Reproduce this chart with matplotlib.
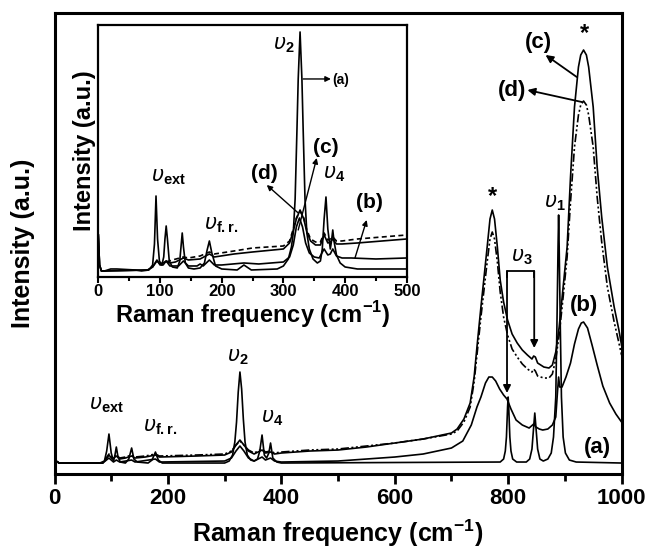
import matplotlib
matplotlib.use('Agg')
import matplotlib.pyplot as plt
from matplotlib.ticker import MultipleLocator

plt.rcParams['font.family'] = ['Liberation Sans', 'DejaVu Sans']
plt.rcParams['mathtext.fontset'] = 'custom'
plt.rcParams['mathtext.rm'] = 'Liberation Sans'
plt.rcParams['mathtext.bf'] = 'Liberation Sans:bold'
plt.rcParams['mathtext.it'] = 'DejaVu Sans:italic'

# ---- main spectra (Raman shift cm-1, intensity a.u.) ----
xa = [0, 3, 8, 80, 88, 92, 96, 100, 104, 106, 109, 112, 116, 125, 131, 136, 140, 146,
      165, 172, 178, 183, 190, 300, 308, 314, 318, 321, 324, 327, 330, 333, 336, 340,
      346, 352, 358, 362, 366, 370, 374, 378, 381, 385, 392, 400, 786, 792, 795, 797,
      799, 800, 801, 803, 805, 808, 815, 832, 838, 842, 845, 847, 849, 852, 856, 862,
      870, 876, 880, 884, 886, 888, 889, 890, 892, 894, 897, 901, 908, 920, 1000]
ya = [25, 16, 14, 14, 16, 26, 43, 24, 16, 20, 30, 20, 15, 14, 18, 29, 18, 15,
      14, 17, 25, 17, 14, 14, 16, 22, 35, 55, 85, 105, 88, 58, 35, 22,
      17, 16, 18, 26, 42, 22, 19, 24, 34, 19, 15, 14, 15, 18, 26, 40,
      70, 80, 70, 40, 26, 18, 15, 15, 18, 28, 50, 64, 50, 28, 18, 16,
      18, 24, 40, 80, 150, 230, 262, 230, 150, 80, 40, 24, 17, 15, 14]

xb = [0, 3, 8, 85, 96, 104, 109, 115, 136, 142, 178, 185, 300, 312, 320, 327, 334, 342,
      352, 366, 372, 381, 388, 400, 500, 600, 650, 700, 720, 735, 745, 752, 760, 766,
      772, 778, 785, 792, 798, 805, 814, 825, 837, 845, 849, 855, 861, 870, 878, 884,
      887, 889, 891, 895, 902, 910, 917, 924, 929, 933, 940, 948, 957, 967, 979, 990, 1000]
yb = [25, 16, 14, 14, 19, 15, 17, 15, 17, 15, 18, 15, 16, 19, 26, 31, 26, 19,
      16, 20, 17, 19, 16, 15, 16, 20, 23, 29, 36, 52, 70, 80, 94, 100,
      100, 96, 88, 82, 78, 68, 57, 52, 49, 53, 50, 48, 47, 48, 52, 60,
      85, 100, 90, 90, 100, 114, 133, 148, 154, 155, 149, 132, 112, 91, 74, 63, 55]

xc = [0, 3, 8, 85, 90, 96, 102, 109, 115, 125, 136, 142, 160, 178, 185, 250, 300, 312,
      320, 327, 334, 342, 352, 366, 372, 381, 388, 400, 450, 500, 550, 600, 650, 700,
      710, 722, 733, 740, 745, 752, 757, 763, 768, 772, 776, 781, 786, 792, 799, 807,
      816, 825, 834, 842, 845, 848, 852, 863, 872, 878, 884, 890, 897, 904, 910, 917,
      924, 928, 933, 938, 942, 950, 957, 965, 975, 987, 995, 1000]
yc = [25, 16, 14, 14, 17, 22, 18, 21, 18, 19, 21, 19, 20, 22, 20, 21, 22, 25,
      32, 37, 32, 26, 23, 27, 24, 25, 23, 24, 26, 27, 30, 34, 38, 44,
      48, 58, 74, 100, 130, 170, 197, 230, 258, 267, 258, 230, 197, 175, 157, 143,
      134, 127, 122, 118, 121, 120, 114, 110, 109, 112, 125, 150, 190, 230, 300, 370,
      410, 422, 427, 422, 410, 370, 310, 260, 210, 170, 148, 132]
yd = [25, 16, 14, 14, 18, 23, 19, 22, 19, 20, 22, 20, 21, 23, 21, 22, 23, 26,
      32, 36, 32, 27, 24, 28, 25, 26, 24, 25, 27, 28, 31, 34, 38, 43,
      46, 55, 70, 95, 122, 160, 185, 215, 238, 245, 238, 215, 185, 160, 142, 128,
      120, 113, 108, 105, 108, 106, 101, 99, 99, 103, 118, 142, 180, 220, 275, 330,
      362, 372, 376, 372, 362, 330, 280, 235, 190, 155, 135, 122]

# ---- inset spectra (0-500 cm-1) ----
xia = [0, 2, 5, 10, 20, 30, 60, 70, 82, 88, 91, 93.5, 96, 99, 103, 106, 108, 110, 112, 115,
       120, 128, 132, 134, 136, 138, 141, 146, 155, 165, 172, 176, 180, 184, 190, 200, 225,
       236, 248, 290, 300, 308, 313, 316, 319, 322, 324, 327, 330, 332, 335, 338, 342, 348,
       355, 360, 363, 366, 369, 372, 376, 378, 380, 382, 386, 392, 400, 420, 500]
yia = [44, 14, 8, 8, 10, 10, 9, 8, 9, 14, 35, 83, 40, 18, 14, 22, 40, 53, 40, 18,
       12, 11, 18, 32, 46, 32, 16, 11, 10, 11, 16, 28, 38, 26, 13, 10, 9,
       14, 9, 10, 13, 20, 32, 46, 80, 150, 200, 247, 200, 150, 80, 46, 30, 20,
       16, 18, 30, 60, 82, 50, 30, 38, 49, 38, 24, 16, 12, 10, 10]

xib = [0, 2, 5, 10, 80, 88, 95, 100, 105, 110, 116, 130, 138, 146, 160, 165, 170, 180, 188,
       200, 236, 260, 300, 310, 316, 321, 326, 331, 336, 342, 350, 358, 366, 372, 376, 380,
       386, 395, 410, 450, 500]
yib = [44, 14, 8, 8, 9, 12, 19, 14, 14, 18, 13, 13, 18, 13, 13, 15, 13, 19, 14,
       14, 16, 15, 17, 22, 34, 52, 61, 52, 36, 26, 22, 21, 30, 24, 25, 30,
       23, 21, 21, 20, 21]

xic = [0, 2, 5, 10, 80, 88, 95, 100, 105, 110, 116, 125, 138, 146, 165, 180, 188, 220, 250,
       300, 310, 316, 321, 327, 333, 338, 344, 352, 360, 366, 372, 376, 380, 386, 395, 420,
       460, 500]
yic = [44, 14, 8, 8, 9, 12, 18, 15, 16, 18, 16, 17, 21, 19, 20, 25, 22, 25, 27,
       30, 36, 48, 60, 69, 60, 47, 38, 34, 34, 44, 36, 37, 40, 35, 35, 36,
       38, 40]

xid = [110, 120, 138, 146, 165, 180, 188, 220, 250, 300, 310, 316, 321, 327, 333, 338, 344,
       352, 360, 366, 372, 376, 380, 386, 395, 420, 460, 500]
yid = [17, 19, 22, 21, 23, 27, 25, 28, 31, 33, 38, 50, 61, 68, 61, 49, 40,
       37, 37, 46, 39, 40, 42, 38, 38, 40, 42, 44]

lw = 1.2
dashdot = (0, (5, 1.5, 1.2, 1.5, 1.2, 1.5))

fig = plt.figure(figsize=(6.49, 5.51), dpi=100)
ax = fig.add_axes([0.084, 0.1397, 0.8737, 0.8367])

ax.plot(xa, ya, color='k', lw=lw)
ax.plot(xb, yb, color='k', lw=lw)
ax.plot(xc, yc, color='k', lw=lw)
ax.plot(xc, yd, color='k', lw=lw, linestyle=dashdot)

ax.set_xlim(0, 1000)
ax.set_ylim(3, 464)
ax.xaxis.set_major_locator(MultipleLocator(200))
ax.xaxis.set_minor_locator(MultipleLocator(100))
ax.tick_params(axis='x', which='major', direction='out', length=7, width=2, labelsize=16, pad=3)
ax.tick_params(axis='x', which='minor', direction='out', length=5, width=2)
ax.set_yticks([])
for lab in ax.get_xticklabels():
    lab.set_fontweight('bold')
for s in ax.spines.values():
    s.set_linewidth(2.2)
ax.set_xlabel(r'Raman frequency (cm$^{\mathbf{-1}}$)', fontsize=18, fontweight='bold', labelpad=6)
ax.set_ylabel('Intensity (a.u.)', fontsize=18, fontweight='bold', labelpad=14)

# main annotations
kw = dict(ha='center', va='center', fontsize=15)
ax.text(91, 72, r'$\upsilon_{\mathbf{ext}}$', **kw)
ax.text(186, 50, r'$\upsilon_{\mathbf{f.r.}}$', **kw)
ax.text(324, 120, r'$\upsilon_{\mathbf{2}}$', **kw)
ax.text(384, 59, r'$\upsilon_{\mathbf{4}}$', **kw)
ax.text(883, 274, r'$\upsilon_{\mathbf{1}}$', **kw)
ax.text(825, 220, r'$\upsilon_{\mathbf{3}}$', **kw)
ax.text(772, 280, '*', ha='center', va='center', fontsize=17, fontweight='bold')
ax.text(934, 443, '*', ha='center', va='center', fontsize=17, fontweight='bold')
lkw = dict(ha='center', va='center', fontsize=16, fontweight='bold')
ax.text(853, 435, '(c)', **lkw)
ax.text(807, 387, '(d)', **lkw)
ax.text(934, 172, '(b)', **lkw)
ax.text(957, 30, '(a)', **lkw)

arr = dict(arrowstyle='-|>', color='k', lw=1.3, mutation_scale=11, shrinkA=0, shrinkB=0)
ax.annotate('', xy=(866, 422), xytext=(921, 400), arrowprops=arr)
ax.annotate('', xy=(834, 387), xytext=(930, 375), arrowprops=arr)
# v3 bracket
ax.plot([798, 798, 846, 846], [200, 206, 206, 200], color='k', lw=1.3)
ax.annotate('', xy=(798, 84), xytext=(798, 206), arrowprops=arr)
ax.annotate('', xy=(846, 129), xytext=(846, 206), arrowprops=arr)

# ---- inset ----
ins = fig.add_axes([0.1515, 0.4973, 0.4753, 0.4574])
ins.plot(xia, yia, color='k', lw=lw)
ins.plot(xib, yib, color='k', lw=lw)
ins.plot(xic, yic, color='k', lw=lw)
ins.plot(xid, yid, color='k', lw=lw, linestyle=(0, (3, 2)))
ins.set_xlim(0, 500)
ins.set_ylim(2, 254)
ins.xaxis.set_major_locator(MultipleLocator(100))
ins.xaxis.set_minor_locator(MultipleLocator(50))
ins.tick_params(axis='x', which='major', direction='out', length=4, width=1.5, labelsize=12, pad=1)
ins.tick_params(axis='x', which='minor', direction='out', length=3, width=1.5)
ins.set_yticks([])
for lab in ins.get_xticklabels():
    lab.set_fontweight('bold')
for s in ins.spines.values():
    s.set_linewidth(1.6)
ins.set_xlabel(r'Raman frequency (cm$^{\mathbf{-1}}$)', fontsize=17, fontweight='bold', labelpad=0)
ins.set_ylabel('Intensity (a.u.)', fontsize=17, fontweight='bold', labelpad=2)

ins.text(301, 234, r'$\upsilon_{\mathbf{2}}$', **kw)
ins.text(382, 105, r'$\upsilon_{\mathbf{4}}$', **kw)
ins.text(113, 102, r'$\upsilon_{\mathbf{ext}}$', **kw)
ins.text(200, 54, r'$\upsilon_{\mathbf{f.r.}}$', **kw)
ins.text(369, 131, '(c)', ha='center', va='center', fontsize=15, fontweight='bold')
ins.text(269, 105, '(d)', ha='center', va='center', fontsize=15, fontweight='bold')
ins.text(440, 76, '(b)', ha='center', va='center', fontsize=15, fontweight='bold')
ins.text(379, 199, '(a)', ha='left', va='center', fontsize=10, fontweight='bold')
arr2 = dict(arrowstyle='-|>', color='k', lw=1.0, mutation_scale=8, shrinkA=0, shrinkB=0)
ins.annotate('', xy=(377, 200), xytext=(332, 200), arrowprops=arr2)
ins.annotate('', xy=(354, 121), xytext=(324, 49), arrowprops=arr2)
ins.annotate('', xy=(273, 94), xytext=(324, 66), arrowprops=arr2)
ins.annotate('', xy=(435, 59), xytext=(416, 21), arrowprops=arr2)

fig.savefig('out.png', dpi=100)
plt.close(fig)
